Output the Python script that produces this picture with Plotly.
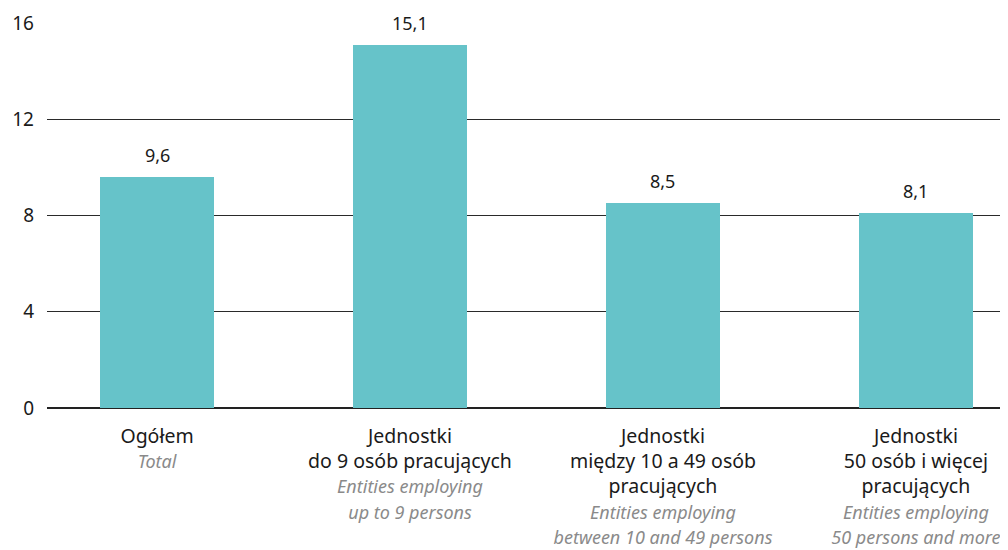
import plotly.graph_objects as go

categories_pl = ["Ogółem", "Jednostki<br>do 9 osób pracujących",
                 "Jednostki<br>między 10 a 49 osób<br>pracujących",
                 "Jednostki<br>50 osób i więcej<br>pracujących"]
categories_en = ["Total", "Entities employing<br>up to 9 persons",
                 "Entities employing<br>between 10 and 49 persons",
                 "Entities employing<br>50 persons and more"]
values = [9.6, 15.1, 8.5, 8.1]
value_labels = ["9,6", "15,1", "8,5", "8,1"]
y_ticks = [0, 4, 8, 12, 16]

FONT = "Noto Sans"
xs = list(range(len(values)))


def en_line(s):
    return "<br>".join(
        f"<i><span style='color:#8a8a8a;font-size:18px'>{p}</span></i>"
        for p in s.split("<br>"))


ticktext = [f"{pl}<br>{en_line(en)}" for pl, en in zip(categories_pl, categories_en)]

fig = go.Figure()
fig.add_trace(go.Bar(x=xs, y=values, width=0.45, marker_color="#66C3C9",
                     marker_line_width=0, hoverinfo="skip"))

for x, v, t in zip(xs, values, value_labels):
    fig.add_annotation(x=x, y=v, text=t, showarrow=False, yshift=22,
                       font=dict(family=FONT, size=18, color="#1a1a1a"),
                       bgcolor="white", borderpad=6)

fig.update_layout(
    width=1000, height=542,
    margin=dict(l=39, r=0, t=15, b=142, autoexpand=False),
    plot_bgcolor="white", paper_bgcolor="white",
    showlegend=False,
    font=dict(family=FONT, size=18, color="#1a1a1a"),
    bargap=0,
)
fig.update_xaxes(range=[-0.435, 3.364], tickmode="array", tickvals=xs,
                 ticktext=ticktext, showgrid=False, zeroline=False,
                 showline=False, ticks="", ticklabelstandoff=14,
                 automargin=False,
                 tickfont=dict(size=19.5, family=FONT))
fig.update_yaxes(range=[0, 16], tickmode="array", tickvals=y_ticks,
                 showgrid=True, gridcolor="#2a2a2a", gridwidth=1,
                 zeroline=True, zerolinecolor="#222222", zerolinewidth=1.5,
                 ticks="", ticklabelstandoff=12, automargin=False,
                 tickfont=dict(size=19, family=FONT))

fig.write_html("out.html")
